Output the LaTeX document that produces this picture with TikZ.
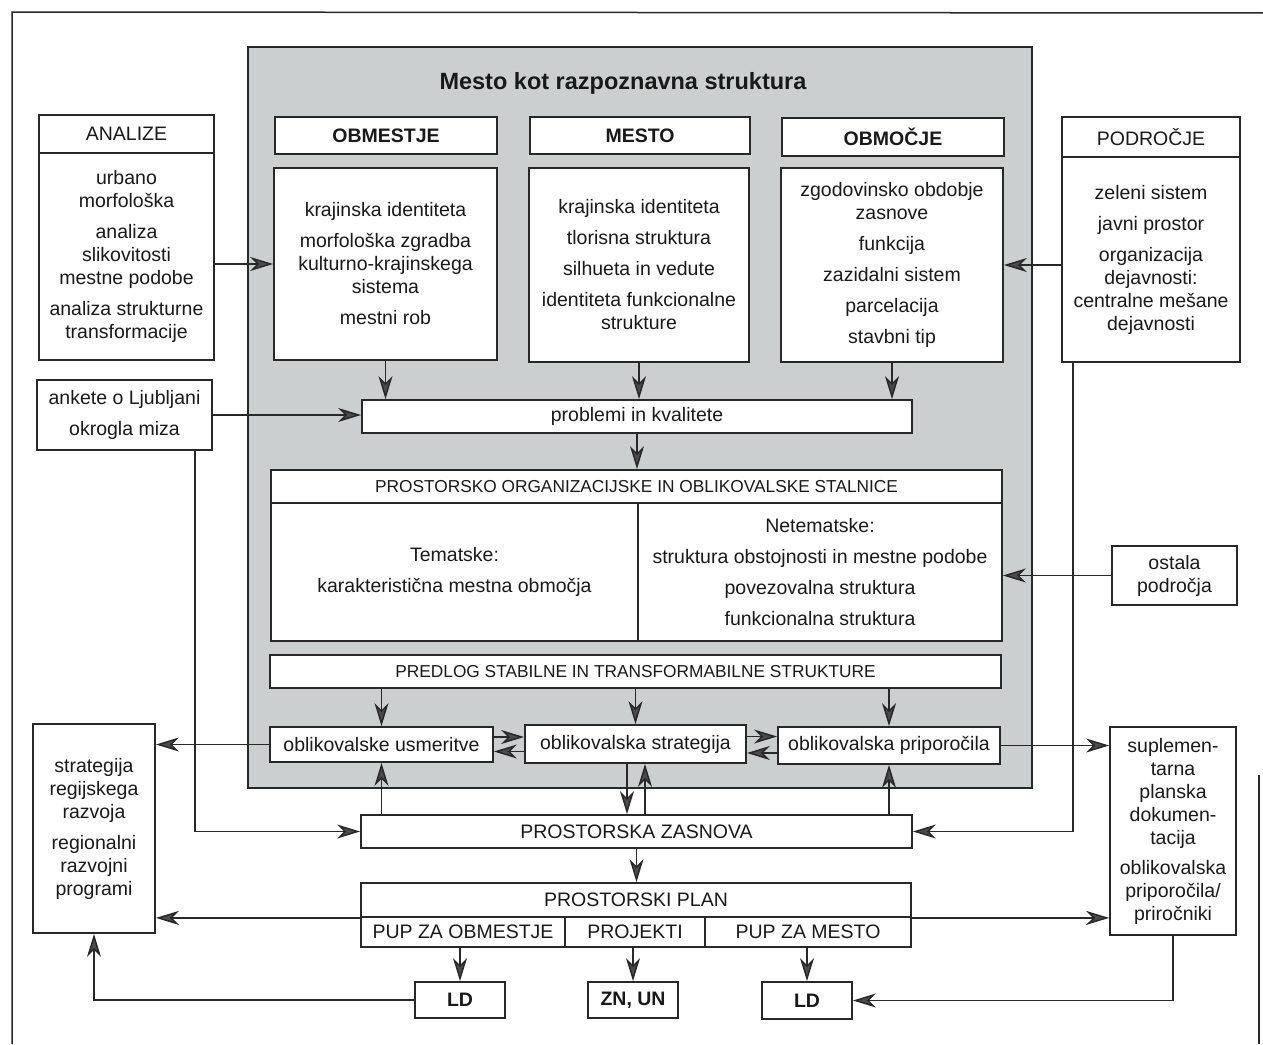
\documentclass[tikz,border=0pt]{standalone}
\usepackage{fontspec}
\setmainfont{Liberation Sans}
\usetikzlibrary{arrows.meta,calc}
\definecolor{lc}{RGB}{40,40,40}
\definecolor{ac}{RGB}{75,75,75}
\definecolor{tc}{RGB}{25,25,25}
\definecolor{grayfill}{RGB}{203,207,208}
\newcommand\myfs{\fontsize{19.5}{23}\selectfont}
\newcommand\myfsb{\fontsize{19.5}{23}\selectfont\bfseries}
\newcommand\myfss{\fontsize{17.3}{21}\selectfont}
\tikzset{
  box/.style={draw=lc, line width=1.8pt, fill=white, inner sep=0pt, align=center, font=\myfs, text=tc},
  arr/.style={draw=lc, line width=1.5pt, -{Stealth[length=23pt,width=14pt,inset=7pt,fill=ac]}},
  ln/.style={draw=lc, line width=1.5pt}
}
\begin{document}
\begin{tikzpicture}[x=1pt,y=-1pt]
\useasboundingbox (0,0) rectangle (1263,1044);
% outer frame
\draw[ln] (12,1044) -- (12,12) -- (1263,13);
\draw[ln] (1259,775) -- (1259,1044);
% gray area
\node[draw=lc, line width=1.7pt, fill=grayfill, inner sep=0pt, minimum width=784pt, minimum height=741pt] (gray) at (640,417.5) {};
\node[font=\fontsize{23.5}{28}\selectfont\bfseries, text=tc] (title) at (623,83) {Mesto kot razpoznavna struktura};
% headers
\node[box, font=\myfsb, minimum width=222pt, minimum height=37pt] (hObm) at (386,135.5) {OBMESTJE};
\node[box, font=\myfsb, minimum width=220pt, minimum height=37pt] (hMes) at (640,135.5) {MESTO};
\node[box, font=\myfsb, minimum width=222pt, minimum height=38pt] (hObc) at (893,137) {OBMOČJE};
% contents
\node[box, minimum width=223pt, minimum height=192pt] (cObm) at (385.5,264) {krajinska identiteta\\[8pt]morfološka zgradba\\kulturno-krajinskega\\sistema\\[8pt]mestni rob};
\node[box, minimum width=220pt, minimum height=194pt] (cMes) at (639,265) {krajinska identiteta\\[8pt]tlorisna struktura\\[8pt]silhueta in vedute\\[8pt]identiteta funkcionalne\\strukture};
\node[box, minimum width=222pt, minimum height=194pt] (cObc) at (892,265) {zgodovinsko obdobje\\zasnove\\[8pt]funkcija\\[8pt]zazidalni sistem\\[8pt]parcelacija\\[8pt]stavbni tip};
% left / right side boxes
\node[box, minimum width=175pt, minimum height=38pt] (anH) at (126.5,134) {ANALIZE};
\node[box, minimum width=175pt, minimum height=207pt] (anC) at (126.5,256.5) {urbano\\morfološka\\[8pt]analiza\\slikovitosti\\mestne podobe\\[8pt]analiza strukturne\\transformacije};
\node[box, minimum width=178pt, minimum height=40pt] (podH) at (1151,137) {PODROČJE};
\node[box, minimum width=178pt, minimum height=205pt] (podC) at (1151,259.5) {zeleni sistem\\[8pt]javni prostor\\[8pt]organizacija\\dejavnosti:\\centralne mešane\\dejavnosti};
\node[box, minimum width=175pt, minimum height=70pt] (ankete) at (124.5,415) {ankete o Ljubljani\\[8pt]okrogla miza};
\node[box, minimum width=125pt, minimum height=59pt] (ostala) at (1174.5,575.5) {ostala\\področja};
% middle column
\node[box, minimum width=550pt, minimum height=33pt] (problemi) at (637,416.5) {problemi in kvalitete};
\node[box, font=\myfss, minimum width=731pt, minimum height=33pt] (stH) at (636.5,486.5) {PROSTORSKO ORGANIZACIJSKE IN OBLIKOVALSKE STALNICE};
\node[box, minimum width=367pt, minimum height=138pt] (stL) at (454.5,572) {Tematske:\\[8pt]karakteristična mestna območja};
\node[box, minimum width=364pt, minimum height=138pt] (stR) at (820,572) {Netematske:\\[8pt]struktura obstojnosti in mestne podobe\\[8pt]povezovalna struktura\\[8pt]funkcionalna struktura};
\node[box, font=\myfss, minimum width=731pt, minimum height=33pt] (predlog) at (635.5,671.5) {PREDLOG STABILNE IN TRANSFORMABILNE STRUKTURE};
\node[box, minimum width=223pt, minimum height=35pt] (usm) at (381.5,744.5) {oblikovalske usmeritve};
\node[box, minimum width=221pt, minimum height=38pt] (str) at (635.5,744) {oblikovalska strategija};
\node[box, minimum width=222pt, minimum height=37pt] (pri) at (889,745.5) {oblikovalska priporočila};
\node[box, minimum width=122pt, minimum height=209pt] (regional) at (94,828.5) {strategija\\regijskega\\razvoja\\[8pt]regionalni\\razvojni\\programi};
\node[box, minimum width=126pt, minimum height=208pt] (suplem) at (1173,831) {suplemen-\\tarna\\planska\\dokumen-\\tacija\\[7pt]oblikovalska\\priporočila/\\priročniki};
\node[box, minimum width=551pt, minimum height=33pt] (zasnova) at (636.5,831.5) {PROSTORSKA ZASNOVA};
\node[box, minimum width=550pt, minimum height=34pt] (planH) at (636,900) {PROSTORSKI PLAN};
\node[box, minimum width=204pt, minimum height=30pt] (pup1) at (463,932) {PUP ZA OBMESTJE};
\node[box, minimum width=140pt, minimum height=30pt] (proj) at (635,932) {PROJEKTI};
\node[box, minimum width=206pt, minimum height=30pt] (pup2) at (808,932) {PUP ZA MESTO};
\node[box, font=\myfsb, minimum width=90pt, minimum height=36pt] (LD1) at (460,1000) {LD};
\node[box, font=\myfsb, minimum width=90pt, minimum height=36pt] (ZNUN) at (633,1000) {ZN, UN};
\node[box, font=\myfsb, minimum width=90pt, minimum height=37pt] (LD2) at (807,1000.5) {LD};
% connectors
\draw[arr] (anC.east |- cObm.west) -- (cObm.west);
\draw[arr] (podC.west |- cObc.east) -- (cObc.east);
\draw[arr] (cObm.south) -- (cObm.south |- problemi.north);
\draw[arr] (cMes.south) -- (cMes.south |- problemi.north);
\draw[arr] (cObc.south) -- (cObc.south |- problemi.north);
\draw[arr] (ankete.east) -- (ankete.east -| problemi.west);
\draw[arr] (problemi.south) -- (problemi.south |- stH.north);
\draw[arr] (ostala.west) -- (ostala.west -| stR.east);
\draw[arr] (usm.north |- predlog.south) -- (usm.north);
\draw[arr] (str.north |- predlog.south) -- (str.north);
\draw[arr] (pri.north |- predlog.south) -- (pri.north);
\coordinate (u1) at ([yshift=7.5pt]usm.east);
\coordinate (u2) at ([yshift=-7.5pt]str.west);
\coordinate (v1) at ([yshift=7.5pt]str.east);
\coordinate (v2) at ([yshift=-7.5pt]pri.west);
\draw[arr] (u1) -- (u1 -| str.west);
\draw[arr] (u2) -- (u2 -| usm.east);
\draw[arr] (v1) -- (v1 -| pri.west);
\draw[arr] (v2) -- (v2 -| str.east);
\draw[arr] (usm.west) -- (usm.west -| regional.east);
\draw[arr] (pri.east) -- (pri.east -| suplem.west);
\coordinate (ak) at ([xshift=70.5pt]ankete.south);
\draw[arr] (ak) |- (zasnova.west);
\coordinate (pk) at ([xshift=-78pt]podC.south);
\draw[arr] (pk) |- (zasnova.east);
\draw[arr] (usm.south |- zasnova.north) -- (usm.south);
\coordinate (sd) at ([xshift=-8.5pt]str.south);
\coordinate (su) at ([xshift=9.5pt]str.south);
\draw[arr] (sd) -- (sd |- zasnova.north);
\draw[arr] (su |- zasnova.north) -- (su);
\draw[arr] (pri.south |- zasnova.north) -- (pri.south);
\draw[arr] (zasnova.south) -- (zasnova.south |- planH.north);
\draw[arr] (planH.south west) -- (planH.south west -| regional.east);
\draw[arr] (planH.south east) -- (planH.south east -| suplem.west);
\draw[arr] (LD1.north |- pup1.south) -- (LD1.north);
\draw[arr] (ZNUN.north |- proj.south) -- (ZNUN.north);
\draw[arr] (LD2.north |- pup2.south) -- (LD2.north);
\draw[arr] (LD1.west) -| (regional.south);
\draw[arr] (suplem.south) |- (LD2.east);
\end{tikzpicture}
\end{document}
